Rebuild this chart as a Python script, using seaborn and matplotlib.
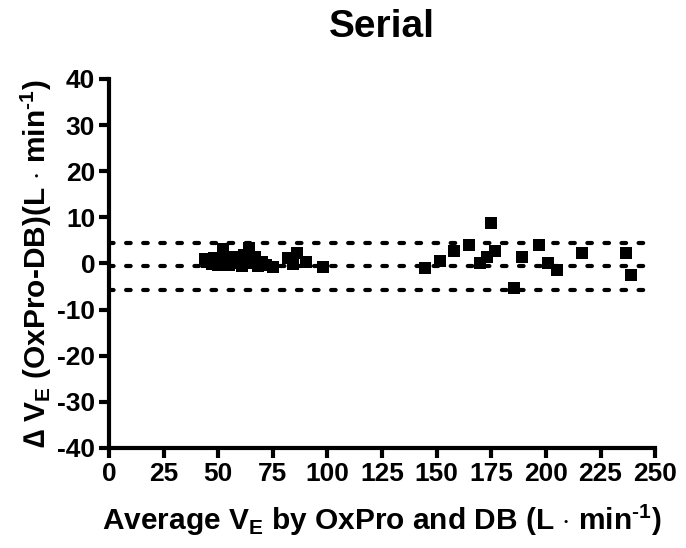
import matplotlib
matplotlib.use("Agg")
import matplotlib.pyplot as plt
import seaborn as sns
import pandas as pd

# Data
avg_ve = [44, 45, 47, 48, 49, 50, 51, 52, 53, 54, 55, 56, 57, 58, 60, 61, 62, 63,
          64, 65, 66, 67, 68, 70, 72, 75, 82, 84, 86, 90, 98,
          144.5, 151.5, 158, 165, 170, 173, 175, 176.5, 185.5, 189, 197, 201, 205,
          216.5, 236.5, 239]
diff_ve = [1.0, 0.3, -0.2, 1.2, 0.5, -0.3, 0.0, 3.2, 1.0, 0.2, -0.3, 0.8, 1.5, 0.0,
           0.5, -0.5, 1.8, 0.2, 3.3, 1.2, 0.0, 1.5, -0.6, 0.3, -0.3, -0.8, 1.2, -0.2,
           2.3, 0.3, -0.8,
           -0.9, 0.5, 2.6, 4.0, 0.2, 1.5, 8.7, 2.6, -5.4, 1.3, 4.0, 0.0, -1.4,
           2.2, 2.3, -2.5]
bias_lines = [4.5, -0.65, -5.8]
x_ticks = [0, 25, 50, 75, 100, 125, 150, 175, 200, 225, 250]
y_ticks = [-40, -30, -20, -10, 0, 10, 20, 30, 40]

sns.set_style("ticks")
plt.rcParams["font.family"] = ["Liberation Sans", "DejaVu Sans"]
plt.rcParams["font.weight"] = "bold"
plt.rcParams["axes.unicode_minus"] = False
plt.rcParams["text.color"] = "black"
plt.rcParams["axes.labelcolor"] = "black"
plt.rcParams["xtick.color"] = "black"
plt.rcParams["ytick.color"] = "black"
plt.rcParams["mathtext.fontset"] = "custom"
plt.rcParams["mathtext.rm"] = "Liberation Sans:bold"
plt.rcParams["mathtext.it"] = "Liberation Sans:bold"
plt.rcParams["mathtext.bf"] = "Liberation Sans:bold"
plt.rcParams["mathtext.sf"] = "Liberation Sans:bold"

df = pd.DataFrame({"avg": avg_ve, "diff": diff_ve})

fig = plt.figure(figsize=(6.86, 5.48), dpi=100)
ax = fig.add_axes([0.159, 0.1825, 0.796, 0.6735])

for yv in bias_lines:
    ax.axhline(yv, color="black", linewidth=3, linestyle=(0, (1.1, 3.0)),
               dash_capstyle="round", zorder=1)

sns.scatterplot(data=df, x="avg", y="diff", marker="s", color="black",
                s=75, edgecolor="none", ax=ax, zorder=3, clip_on=False)

ax.set_xlim(0, 250)
ax.set_ylim(-40, 40)
ax.set_xticks(x_ticks)
ax.set_yticks(y_ticks)
ax.tick_params(axis="both", direction="out", length=7, width=3,
               labelsize=19, pad=3, color="black", labelcolor="black")
for lab in ax.get_xticklabels() + ax.get_yticklabels():
    lab.set_fontweight("bold")

sns.despine(ax=ax)
for side in ["left", "bottom"]:
    ax.spines[side].set_linewidth(3)
    ax.spines[side].set_color("black")

ax.set_xlabel(r"Average $V_E$ by OxPro and DB (L $\cdot$ min$^{\text{-1}}$)",
              fontsize=21.5, fontweight="bold", labelpad=12, color="black")
ax.set_ylabel("\u2206 " + r"$V_E$ (OxPro-DB)(L $\cdot$ min$^{\text{-1}}$)",
              fontsize=21.5, fontweight="bold", labelpad=2, color="black")
ax.set_title("Serial", fontsize=28, fontweight="bold", pad=30, color="black")

fig.savefig("out.png", dpi=100)
